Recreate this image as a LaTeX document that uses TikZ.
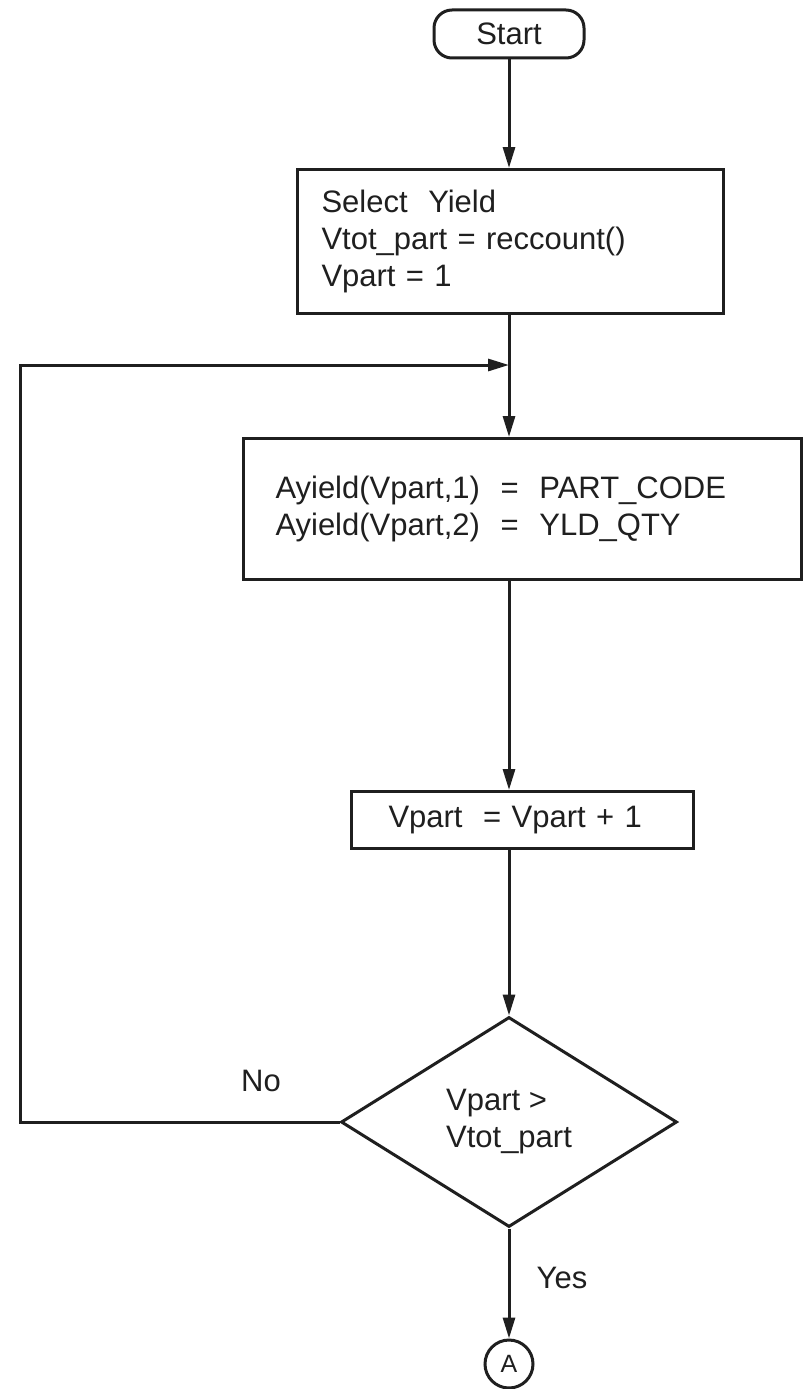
\documentclass[tikz,border=0pt]{standalone}
\usepackage{fontspec}
\setmainfont{Liberation Sans}
\usetikzlibrary{shapes.geometric,arrows.meta}
\definecolor{ink}{gray}{0.12}
\begin{document}
\begin{tikzpicture}[x=1pt,y=-1pt,
  every node/.style={font=\fontsize{31}{37}\selectfont, text=ink, inner sep=0pt},
  ln/.style={draw=ink, line width=3pt},
  arr/.style={ln, -{Triangle[length=21pt,width=12pt]}},
  procbox/.style={ln, rectangle, align=left, anchor=north west},
  termbox/.style={ln, rectangle, rounded corners=18pt, minimum width=150pt, minimum height=48pt},
  decbox/.style={ln, diamond, align=left, minimum width=336pt, minimum height=210pt},
  connbox/.style={ln, circle, minimum size=48pt, font=\fontsize{25}{30}\selectfont},
  lbl/.style={}]
\fill[white] (0,0) rectangle (803,1389);
\useasboundingbox (0,0) rectangle (803,1389);

\node[termbox] (start) at (509,34) {Start};

\node[procbox, minimum width=426pt, minimum height=144pt, inner xsep=24pt, text width=378pt]
  (init) at (296,168) {Select\ \ Yield\\Vtot\_part = reccount()\\Vpart = 1};

\node[procbox, minimum width=558pt, minimum height=141pt, inner xsep=32pt, text width=494pt]
  (assign) at (242,437) {Ayield(Vpart,1)\ \ =\ \ PART\_CODE\\Ayield(Vpart,2)\ \ =\ \ YLD\_QTY};

\node[procbox, minimum width=342pt, minimum height=57pt, inner xsep=37pt, text width=268pt]
  (incr) at (350,790) {Vpart\ \ = Vpart + 1};

\node[decbox] (dec) at (509,1122) {Vpart >\\Vtot\_part};

\node[connbox] (conA) at (509,1364) {A};

\node[lbl] (no) at (261,1081) {No};
\node[lbl] (yes) at (562,1278) {Yes};

\coordinate (lp) at (20,365);

\draw[arr] (start.south) -- (start.south |- init.north);
\draw[arr] (init.south -| start) -- (assign.north -| start);
\draw[arr] (assign.south -| start) -- (incr.north -| start);
\draw[arr] (incr.south -| start) -- (dec.north);
\draw[arr] (dec.west) -- (dec.west -| lp) -- (lp) -- (lp -| start);
\draw[arr] (dec.south) -- (conA.north);
\end{tikzpicture}
\end{document}
